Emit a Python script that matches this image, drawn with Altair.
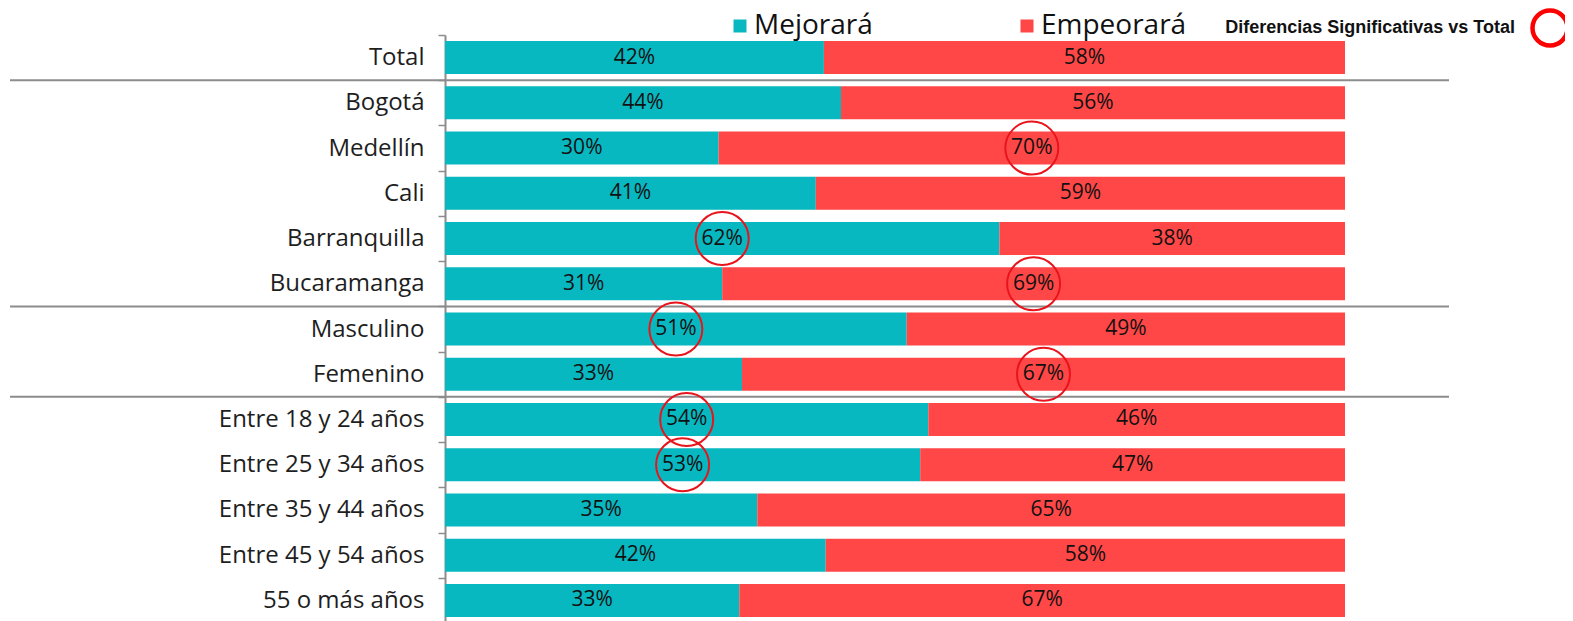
import altair as alt
import pandas as pd

categories = ["Total", "Bogotá", "Medellín", "Cali", "Barranquilla", "Bucaramanga",
              "Masculino", "Femenino", "Entre 18 y 24 años", "Entre 25 y 34 años",
              "Entre 35 y 44 años", "Entre 45 y 54 años", "55 o más años"]
mejorara = [42.1, 44.0, 30.4, 41.2, 61.6, 30.8, 51.3, 33.0, 53.7, 52.8, 34.7, 42.3, 32.7]
empeorara = [57.9, 56.0, 69.6, 58.8, 38.4, 69.2, 48.7, 67.0, 46.3, 47.2, 65.3, 57.7, 67.3]
mej_labels = ["42%", "44%", "30%", "41%", "62%", "31%", "51%", "33%", "54%", "53%", "35%", "42%", "33%"]
emp_labels = ["58%", "56%", "70%", "59%", "38%", "69%", "49%", "67%", "46%", "47%", "65%", "58%", "67%"]
sig_mej = [0, 0, 0, 0, 1, 0, 1, 0, 1, 1, 0, 0, 0]
sig_emp = [0, 0, 1, 0, 0, 1, 0, 1, 0, 0, 0, 0, 0]
series = ["Mejorará", "Empeorará"]
colors = ["#08B8C1", "#FF4747"]
separators = ["Bogotá", "Masculino", "Entre 18 y 24 años"]

rows = []
for i, c in enumerate(categories):
    m, e = mejorara[i], empeorara[i]
    rows.append(dict(cat=c, serie="Mejorará", start=0, end=m, mid=m / 2,
                     label=mej_labels[i], sig=sig_mej[i]))
    rows.append(dict(cat=c, serie="Empeorará", start=m, end=m + e, mid=m + e / 2,
                     label=emp_labels[i], sig=sig_emp[i]))
df = pd.DataFrame(rows)

FONT = "Open Sans"
GRAY = "#8c8c8c"

y_enc = alt.Y("cat:N", sort=categories,
              scale=alt.Scale(paddingInner=0, paddingOuter=0),
              axis=alt.Axis(title=None, labelFontSize=24, labelFont=FONT, labelColor="#1e1e1e",
                            labelLimit=400,
                            domainColor=GRAY, domainWidth=2, tickColor=GRAY, tickSize=7,
                            tickWidth=1.5, tickBand="extent", labelPadding=14))
x_scale = alt.Scale(domain=[0, 100])

base = alt.Chart(df)

bars = base.mark_bar(size=33).encode(
    y=y_enc,
    x=alt.X("start:Q", scale=x_scale, axis=None),
    x2="end:Q",
    color=alt.Color("serie:N", scale=alt.Scale(domain=series, range=colors),
                    legend=alt.Legend(title=None, orient="none", legendX=281, legendY=-23,
                                      direction="horizontal", symbolType="square",
                                      symbolSize=169, symbolStrokeWidth=0,
                                      labelFontSize=28, labelFont=FONT, labelColor="#111",
                                      labelLimit=300,
                                      labelOffset=0, columnPadding=140, padding=0)),
)

labels = base.mark_text(fontSize=21, font=FONT, color="#111").encode(
    y=alt.Y("cat:N", sort=categories),
    x=alt.X("mid:Q", scale=x_scale),
    text="label:N",
)

circles = base.transform_filter("datum.sig == 1").mark_point(
    shape="circle", size=2809, strokeWidth=2, color="#E8141B", filled=False, opacity=1
).encode(
    y=alt.Y("cat:N", sort=categories),
    x=alt.X("mid:Q", scale=x_scale),
)

sep_df = pd.DataFrame({"cat": separators})
seps = alt.Chart(sep_df).mark_rule(color=GRAY, strokeWidth=2).encode(
    y=alt.Y("cat:N", sort=categories, bandPosition=0),
    x=alt.value(-435), x2=alt.value(1004),
)

note_df = pd.DataFrame({"t": ["Diferencias Significativas vs Total"]})
note = alt.Chart(note_df).mark_text(font="Liberation Sans", fontWeight="bold", fontSize=18,
                                    align="right", baseline="middle", color="#111").encode(
    text="t:N", x=alt.value(1070), y=alt.value(-7))
note_circle = alt.Chart(note_df).mark_point(shape="circle", size=1225, strokeWidth=4.5,
                                            color="#FF0000", filled=False, opacity=1).encode(
    x=alt.value(1105), y=alt.value(-7))

base_df = pd.DataFrame({"t": ["Base: 900"]})
base_txt = alt.Chart(base_df).mark_text(font=FONT, fontSize=24, align="left",
                                        baseline="middle", color="#333").encode(
    text="t:N", x=alt.value(-333), y=alt.value(-43))

chart = alt.layer(seps, bars, labels, circles, note, note_circle, base_txt).properties(
    width=900, height=588,
    autosize=alt.AutoSizeParams(type="none"),
    padding={"left": 437, "top": 27, "right": 220, "bottom": 0},
).configure_view(stroke=None)

chart.save("out.html", embed_options={"renderer": "svg", "actions": False})
